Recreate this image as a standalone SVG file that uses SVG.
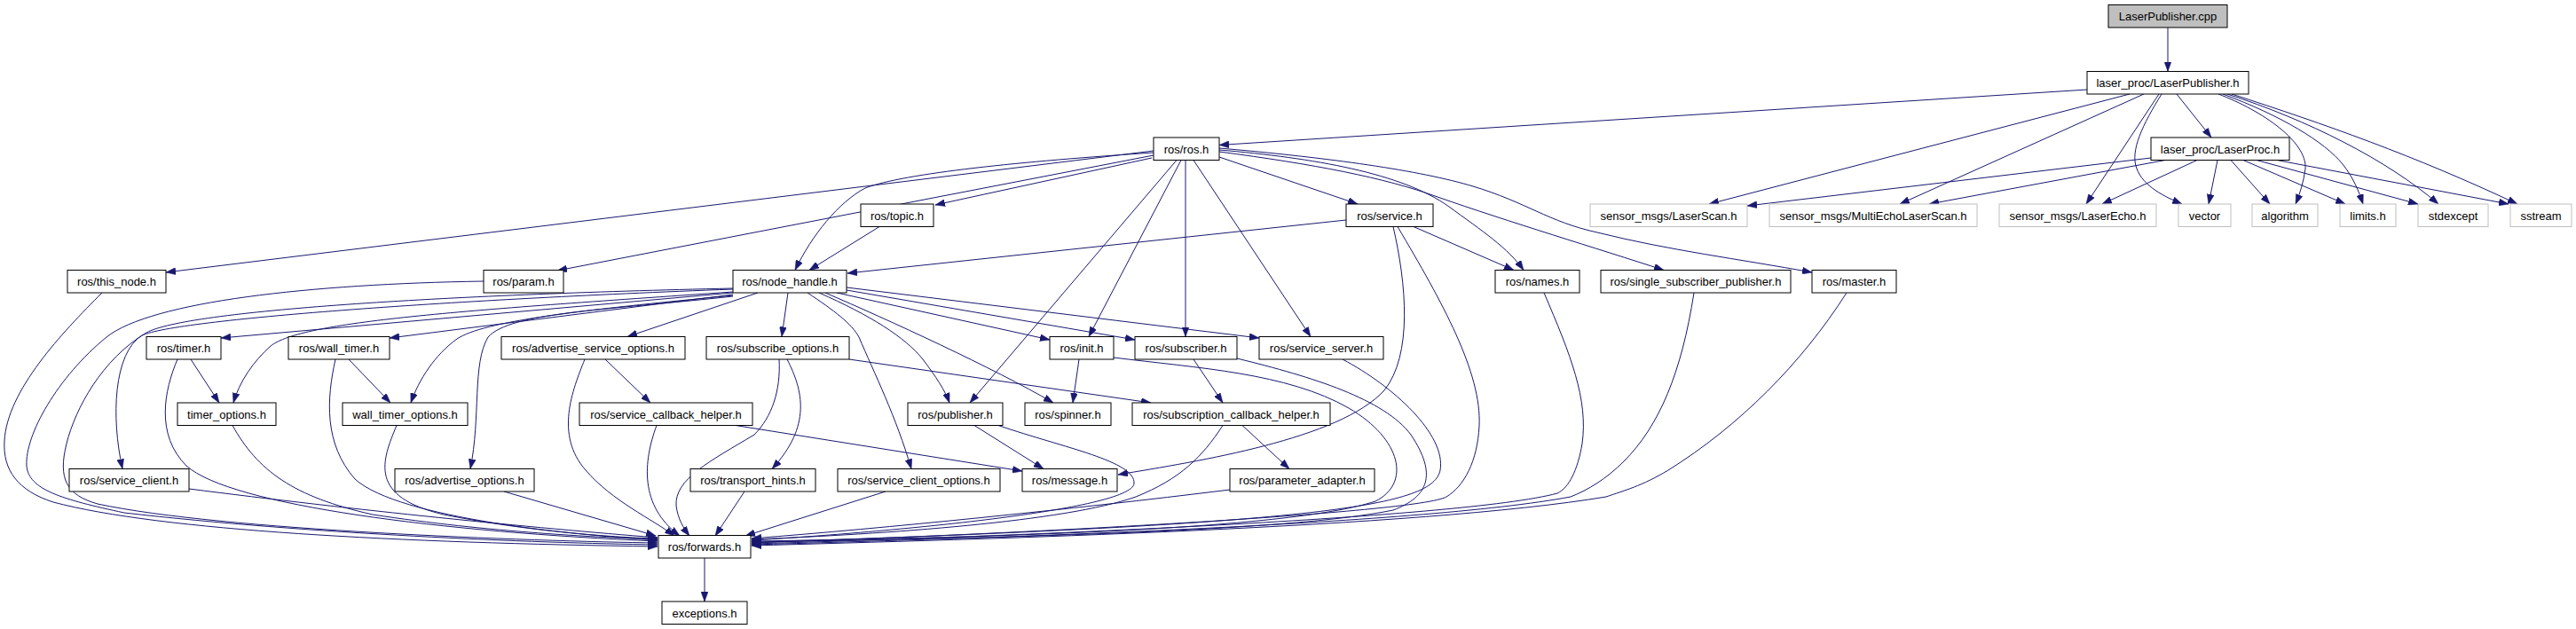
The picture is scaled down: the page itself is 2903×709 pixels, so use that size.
<svg xmlns="http://www.w3.org/2000/svg" width="2903" height="709" viewBox="0 0 2903 709">
<style>
.n rect{fill:#fff;stroke:#000;stroke-width:1}
.g rect{fill:#fff;stroke:#bfbfbf;stroke-width:1}
.r rect{fill:#bfbfbf;stroke:#000;stroke-width:1}
text{font-family:"Liberation Sans",Arial,sans-serif;font-size:13px;text-anchor:middle;fill:#000}
#edges path{fill:none;stroke:#191970;stroke-width:1;marker-end:url(#a)}
</style>
<defs>
<marker id="a" markerWidth="11" markerHeight="8" refX="11" refY="4" orient="auto" markerUnits="userSpaceOnUse">
<path d="M0,0 L11,4 L0,8 z" fill="#191970" stroke="#191970" stroke-width="0.5"/>
</marker>
</defs>
<rect width="2903" height="709" fill="#fff"/>
<g id="edges">
<path d="M2443,31 L2443,80.5"/>
<path d="M2352,101 L1374,163.5"/>
<path d="M2400,106 L1926,230"/>
<path d="M2416,106 L2141,230"/>
<path d="M2433,106 L2351,230"/>
<path d="M2436,106 C2415,140 2400,170 2408,190 C2415,210 2440,222 2459,230"/>
<path d="M2453,106 L2492,155"/>
<path d="M2500,106 C2550,125 2600,160 2598,190 C2596,205 2592,218 2587,230"/>
<path d="M2505,106 C2570,130 2620,160 2640,185 C2652,200 2658,215 2663,230"/>
<path d="M2510,106 C2600,135 2690,180 2748,230"/>
<path d="M2515,106 C2620,140 2720,175 2837,230"/>
<path d="M2424,178 L1969,232"/>
<path d="M2440,180.5 L2174,230"/>
<path d="M2476,180.5 L2369,230"/>
<path d="M2499,180.5 L2489,230"/>
<path d="M2514,180.5 L2558,230"/>
<path d="M2528,180.5 L2643,230"/>
<path d="M2543,180.5 L2725,230"/>
<path d="M2566,180.5 L2827,230"/>
<path d="M1300,170 L187,307"/>
<path d="M1300,175 L628,305"/>
<path d="M1300,172 C1150,182 1020,195 975,212 C945,228 915,265 896,304.5"/>
<path d="M1298,178 L1054,231"/>
<path d="M1374,177 L1530,230"/>
<path d="M1331,180.5 L1227,379.5"/>
<path d="M1326,180.5 L1093,454"/>
<path d="M1336,180.5 L1336,379.5"/>
<path d="M1345,180.5 L1477,379.5"/>
<path d="M1374,169 C1480,178 1580,195 1633,233 C1670,260 1700,280 1717,304.5"/>
<path d="M1374,171 C1480,185 1560,200 1620,222 C1700,250 1800,280 1875,304.5"/>
<path d="M1374,167 C1500,178 1600,192 1660,210 C1720,228 1745,250 1800,262 C1880,282 1960,292 2042,307"/>
<path d="M991,255.5 L912,304.5"/>
<path d="M1517,248 L955,308"/>
<path d="M1593,255.5 L1706,304.5"/>
<path d="M1570,255.5 C1585,320 1592,400 1560,440 C1510,495 1350,520 1260,535"/>
<path d="M1575,255.5 C1625,340 1670,420 1667,480 C1665,520 1650,548 1630,560 C1600,578 1150,602 847,612"/>
<path d="M1740,330 C1770,400 1790,450 1783,500 C1778,530 1768,550 1755,556 C1650,585 1100,606 847,613"/>
<path d="M1909,330 C1895,420 1870,480 1830,520 C1810,540 1790,552 1770,560 C1600,592 1100,607 847,614"/>
<path d="M2081,330 C2030,410 1960,480 1880,530 C1850,548 1830,553 1810,560 C1600,595 1100,608 847,615"/>
<path d="M854,330 L707,379.5"/>
<path d="M888,330 L881,379.5"/>
<path d="M910,330 C940,350 960,365 968,380 C985,420 1010,470 1027,528.5"/>
<path d="M923,330 C980,355 1020,380 1040,405 C1055,425 1065,440 1070,454"/>
<path d="M930,330 C1000,360 1120,415 1187,454"/>
<path d="M943,330 L1183,383"/>
<path d="M954,327 L1279,383"/>
<path d="M954,324 L1419,381"/>
<path d="M826,330 L249,381"/>
<path d="M826,332 L439,381"/>
<path d="M826,329 C520,350 340,362 305,390 C285,408 270,430 263,454"/>
<path d="M826,333 C650,350 545,362 515,382 C490,400 472,428 463,454"/>
<path d="M826,334 C680,350 575,352 550,380 C532,410 542,470 530,528.5"/>
<path d="M826,326 C500,338 200,360 160,378 C128,398 125,470 138,528.5"/>
<path d="M826,325 C500,332 210,350 165,375 C115,405 85,460 75,500 C65,540 75,558 110,568 C250,598 600,610 741,612"/>
<path d="M115,330 C70,375 8,440 5,497 C3,530 20,553 60,566 C180,598 450,612 741,616"/>
<path d="M545,317 C350,320 170,340 120,380 C65,425 28,490 30,525 C32,552 70,563 140,578 C350,602 600,612 741,614"/>
<path d="M215,405 L247,454"/>
<path d="M200,405 C185,440 175,490 210,525 C260,570 500,600 741,610"/>
<path d="M393,405 L440,454"/>
<path d="M378,405 C368,450 365,500 400,540 C450,585 650,603 741,609"/>
<path d="M262,479.5 C290,530 330,560 420,580 C550,600 680,606 741,608"/>
<path d="M447,479.5 C430,520 415,560 500,580 C600,600 700,606 741,607"/>
<path d="M213,551 C400,575 600,595 741,606"/>
<path d="M568,554 L739,604"/>
<path d="M682,405 L733,454"/>
<path d="M659,405 C645,440 625,490 660,530 C690,565 735,585 760,604"/>
<path d="M740,479.5 C725,520 720,570 766,604"/>
<path d="M829,479.5 L1152,531"/>
<path d="M878,405 C880,440 870,470 850,490 C800,520 760,540 762,570 C764,585 770,595 777,604"/>
<path d="M887,405 C905,440 915,480 870,528.5"/>
<path d="M957,405 L1297,454"/>
<path d="M839,554 L806,604"/>
<path d="M998,554 L840,604"/>
<path d="M1098,479.5 L1176,528.5"/>
<path d="M1125,479.5 C1200,505 1280,520 1278,545 C1275,575 1000,600 847,609"/>
<path d="M1216,405 L1209,454"/>
<path d="M1255,403 C1350,415 1450,420 1520,460 C1580,495 1590,545 1550,565 C1450,598 1100,606 847,610"/>
<path d="M1345,405 L1378,454"/>
<path d="M1394,404 C1480,425 1560,450 1590,490 C1620,535 1610,560 1570,575 C1450,600 1100,607 847,611"/>
<path d="M1513,405 C1570,435 1630,490 1623,530 C1615,570 1500,590 847,611.5"/>
<path d="M1400,479.5 L1453,528.5"/>
<path d="M1378,479.5 C1355,515 1330,540 1280,560 C1200,588 1000,602 847,608"/>
<path d="M1386,552 C1200,575 1000,595 847,607"/>
<path d="M794,629 L794,678"/>
</g>
<g id="n_cpp" class="r"><rect x="2376" y="5.5" width="134" height="25.5"/><text x="2443" y="23">LaserPublisher.cpp</text></g>
<g id="n_lph" class="n"><rect x="2352" y="80.5" width="182" height="25.5"/><text x="2443" y="98">laser_proc/LaserPublisher.h</text></g>
<g id="n_ros" class="n"><rect x="1300" y="155" width="74" height="25.5"/><text x="1337" y="172.5">ros/ros.h</text></g>
<g id="n_lproc" class="n"><rect x="2424" y="155" width="156" height="25.5"/><text x="2502" y="172.5">laser_proc/LaserProc.h</text></g>
<g id="n_topic" class="n"><rect x="970" y="230" width="82" height="25.5"/><text x="1011" y="247.5">ros/topic.h</text></g>
<g id="n_service" class="n"><rect x="1517" y="230" width="98" height="25.5"/><text x="1566" y="247.5">ros/service.h</text></g>
<g id="n_scan" class="g"><rect x="1792" y="230" width="177" height="25.5"/><text x="1880.5" y="247.5">sensor_msgs/LaserScan.h</text></g>
<g id="n_multi" class="g"><rect x="1994" y="230" width="234" height="25.5"/><text x="2111" y="247.5">sensor_msgs/MultiEchoLaserScan.h</text></g>
<g id="n_echo" class="g"><rect x="2253" y="230" width="177" height="25.5"/><text x="2341.5" y="247.5">sensor_msgs/LaserEcho.h</text></g>
<g id="n_vector" class="g"><rect x="2455" y="230" width="59" height="25.5"/><text x="2484.5" y="247.5">vector</text></g>
<g id="n_algorithm" class="g"><rect x="2538" y="230" width="74" height="25.5"/><text x="2575" y="247.5">algorithm</text></g>
<g id="n_limits" class="g"><rect x="2637" y="230" width="63" height="25.5"/><text x="2668.5" y="247.5">limits.h</text></g>
<g id="n_stdexcept" class="g"><rect x="2725" y="230" width="79" height="25.5"/><text x="2764.5" y="247.5">stdexcept</text></g>
<g id="n_sstream" class="g"><rect x="2829" y="230" width="69" height="25.5"/><text x="2863.5" y="247.5">sstream</text></g>
<g id="n_this_node" class="n"><rect x="76" y="304.5" width="111" height="25.5"/><text x="131.5" y="322">ros/this_node.h</text></g>
<g id="n_param" class="n"><rect x="545" y="304.5" width="90" height="25.5"/><text x="590" y="322">ros/param.h</text></g>
<g id="n_node_handle" class="n"><rect x="826" y="304.5" width="128" height="25.5"/><text x="890" y="322">ros/node_handle.h</text></g>
<g id="n_names" class="n"><rect x="1685" y="304.5" width="95" height="25.5"/><text x="1732.5" y="322">ros/names.h</text></g>
<g id="n_ssp" class="n"><rect x="1804" y="304.5" width="214" height="25.5"/><text x="1911" y="322">ros/single_subscriber_publisher.h</text></g>
<g id="n_master" class="n"><rect x="2042" y="304.5" width="95" height="25.5"/><text x="2089.5" y="322">ros/master.h</text></g>
<g id="n_timer" class="n"><rect x="165" y="379.5" width="84" height="25.5"/><text x="207" y="397">ros/timer.h</text></g>
<g id="n_wall_timer" class="n"><rect x="325" y="379.5" width="114" height="25.5"/><text x="382" y="397">ros/wall_timer.h</text></g>
<g id="n_aso" class="n"><rect x="565" y="379.5" width="207" height="25.5"/><text x="668.5" y="397">ros/advertise_service_options.h</text></g>
<g id="n_so" class="n"><rect x="796" y="379.5" width="161" height="25.5"/><text x="876.5" y="397">ros/subscribe_options.h</text></g>
<g id="n_init" class="n"><rect x="1183" y="379.5" width="72" height="25.5"/><text x="1219" y="397">ros/init.h</text></g>
<g id="n_subscriber" class="n"><rect x="1279" y="379.5" width="115" height="25.5"/><text x="1336.5" y="397">ros/subscriber.h</text></g>
<g id="n_service_server" class="n"><rect x="1419" y="379.5" width="140" height="25.5"/><text x="1489" y="397">ros/service_server.h</text></g>
<g id="n_timer_options" class="n"><rect x="200" y="454" width="111" height="25.5"/><text x="255.5" y="471.5">timer_options.h</text></g>
<g id="n_wall_timer_options" class="n"><rect x="386" y="454" width="141" height="25.5"/><text x="456.5" y="471.5">wall_timer_options.h</text></g>
<g id="n_sch" class="n"><rect x="653" y="454" width="195" height="25.5"/><text x="750.5" y="471.5">ros/service_callback_helper.h</text></g>
<g id="n_publisher" class="n"><rect x="1023" y="454" width="107" height="25.5"/><text x="1076.5" y="471.5">ros/publisher.h</text></g>
<g id="n_spinner" class="n"><rect x="1155" y="454" width="97" height="25.5"/><text x="1203.5" y="471.5">ros/spinner.h</text></g>
<g id="n_scbh" class="n"><rect x="1276" y="454" width="223" height="25.5"/><text x="1387.5" y="471.5">ros/subscription_callback_helper.h</text></g>
<g id="n_service_client" class="n"><rect x="78" y="528.5" width="135" height="25.5"/><text x="145.5" y="546">ros/service_client.h</text></g>
<g id="n_advertise_options" class="n"><rect x="445" y="528.5" width="157" height="25.5"/><text x="523.5" y="546">ros/advertise_options.h</text></g>
<g id="n_transport_hints" class="n"><rect x="778" y="528.5" width="141" height="25.5"/><text x="848.5" y="546">ros/transport_hints.h</text></g>
<g id="n_sco" class="n"><rect x="944" y="528.5" width="183" height="25.5"/><text x="1035.5" y="546">ros/service_client_options.h</text></g>
<g id="n_message" class="n"><rect x="1152" y="528.5" width="107" height="25.5"/><text x="1205.5" y="546">ros/message.h</text></g>
<g id="n_parameter_adapter" class="n"><rect x="1386" y="528.5" width="163" height="25.5"/><text x="1467.5" y="546">ros/parameter_adapter.h</text></g>
<g id="n_forwards" class="n"><rect x="742" y="603.5" width="104" height="25.5"/><text x="794" y="621">ros/forwards.h</text></g>
<g id="n_exceptions" class="n"><rect x="746" y="678" width="96" height="25.5"/><text x="794" y="695.5">exceptions.h</text></g>
</svg>
